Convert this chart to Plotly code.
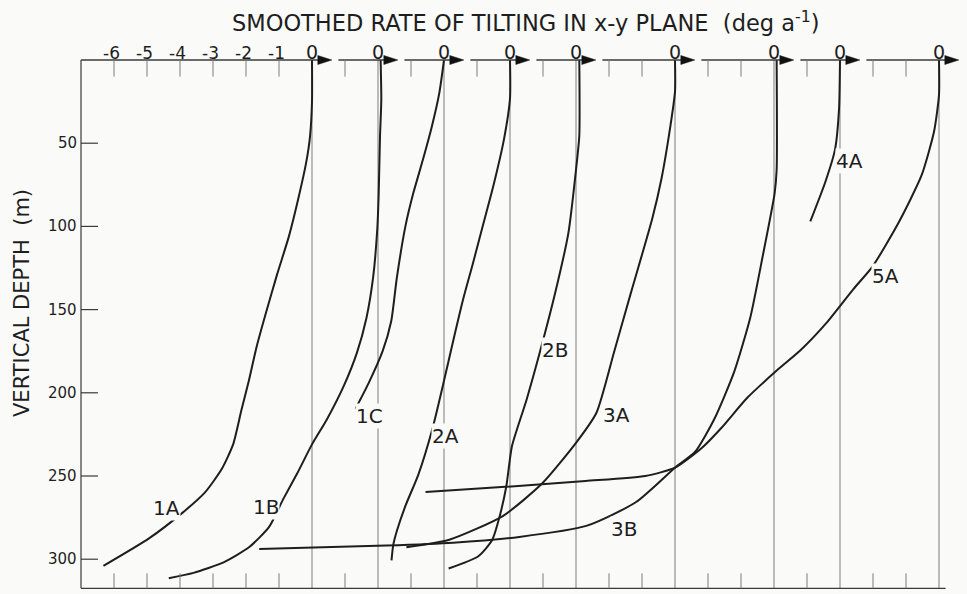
import plotly.graph_objects as go

# ---------------- data ----------------
TITLE = "SMOOTHED RATE OF TILTING IN x-y PLANE  (deg a<sup>-1</sup>)"
Y_TITLE = "VERTICAL DEPTH  (m)"

curve_names = ["1A", "1B", "1C", "2A", "2B", "3A", "3B", "4A", "5A"]
# shared horizontal axis (deg/a): position of each curve's own zero
zero_positions = [0, 2, 4, 6, 8, 11, 14, 16, 19]

depth_1A = [0, 25, 46, 62, 82, 106, 129, 153, 172.5, 192.4, 210.5, 231, 246, 260, 272, 287.5, 304]
rate_1A = [0, 0, -0.06, -0.18, -0.40, -0.70, -1.06, -1.41, -1.68, -1.91, -2.14, -2.39, -2.74, -3.25,
           -3.92, -4.94, -6.32]

depth_1B = [0, 24, 46.5, 81, 101, 131, 155, 176, 196, 216, 231, 248.5, 264.2, 280.6, 292.7, 301.9,
            308.2, 311.4]
rate_1B = [0.08, 0.10, 0.06, 0.02, -0.02, -0.15, -0.35, -0.64, -1.04, -1.55, -2.0, -2.45, -2.88, -3.30,
           -3.90, -4.68, -5.59, -6.34]

depth_1C = [0, 19.6, 40.1, 60, 80, 100, 131, 157, 175, 194, 209.5]
rate_1C = [0, -0.14, -0.37, -0.64, -0.93, -1.17, -1.43, -1.60, -1.86, -2.28, -2.68]

depth_2A = [0, 23.2, 47.4, 74.5, 98.6, 122.7, 143.8, 167.8, 191.9, 220.8, 249.3, 267.5, 282.5, 291.7, 300.7]
rate_2A = [0, 0, -0.18, -0.49, -0.81, -1.13, -1.42, -1.71, -1.99, -2.34, -2.78, -3.16, -3.42, -3.54, -3.59]

depth_2B = [0, 45.5, 66, 103.9, 139.9, 176, 204.3, 232, 256, 274, 288.5, 298.2, 305.6]
rate_2B = [0.10, 0.10, 0.0, -0.23, -0.63, -1.10, -1.50, -1.94, -2.11, -2.31, -2.54, -2.96, -3.86]

depth_3A = [0, 19, 44.9, 71.4, 95.4, 139.5, 175.8, 212, 230.1, 254.4, 274.1, 288.3, 292.8]
rate_3A = [0, 0, -0.18, -0.41, -0.69, -1.33, -1.85, -2.38, -3.0, -4.02, -5.22, -6.84, -8.14]

depth_3B = [0, 66, 80, 118.7, 154.9, 187.6, 215.4, 235.4, 245, 265.8, 280, 286.6, 290.1, 291.8, 293.8]
rate_3B = [0.08, 0.08, 0.02, -0.35, -0.72, -1.21, -1.80, -2.39, -3.0, -4.19, -5.69, -7.72, -9.72,
           -11.75, -15.6]

depth_4A = [0, 29.7, 53.7, 73.6, 97]
rate_4A = [0, -0.03, -0.15, -0.45, -0.90]

depth_5A = [0, 21, 43, 69.4, 97.2, 124, 137.8, 158, 174.3, 186.5, 203, 221, 233, 245, 250, 253, 256.5, 259.6]
rate_5A = [0, 0, -0.15, -0.53, -1.21, -2.01, -2.60, -3.41, -4.19, -4.91, -5.81, -6.59, -7.18, -8.0,
           -8.9, -10.71, -13.14, -15.56]

depth_ticks = [50, 100, 150, 200, 250, 300]
neg_tick_values = [-6, -5, -4, -3, -2, -1]
axis_min, axis_max = -7, 19
depth_bottom = 317.5

# ---------------- layout / style ----------------
LABEL_POS = {  # (x on shared axis, depth) of each curve label
    "1A": (-4.40, 269.4), "1B": (-1.40, 268.6), "1C": (1.75, 213.7), "2A": (4.06, 225.7),
    "2B": (7.36, 174.4), "3A": (9.23, 213.6), "3B": (9.46, 282.0), "4A": (16.28, 60.9),
    "5A": (17.39, 129.7),
}
W, H = 967, 594
PX_X = 33.0      # px per deg/a
PX_Y = 1.664     # px per metre
LEFT_PX, TOP_PX = 81, 60
BG = "#fafaf8"
INK = "#1e1e1e"
AX = "#3a3a3a"
GRID = "#7c7c7c"
FONT = "DejaVu Sans"

x0 = axis_min - LEFT_PX / PX_X
x1 = x0 + W / PX_X
y0 = -TOP_PX / PX_Y
y1 = y0 + H / PX_Y

series = {
    "1A": (depth_1A, rate_1A), "1B": (depth_1B, rate_1B), "1C": (depth_1C, rate_1C),
    "2A": (depth_2A, rate_2A), "2B": (depth_2B, rate_2B), "3A": (depth_3A, rate_3A),
    "3B": (depth_3B, rate_3B), "4A": (depth_4A, rate_4A), "5A": (depth_5A, rate_5A),
}

fig = go.Figure()
shapes = []
annotations = []

# zero grid lines
for z in zero_positions:
    shapes.append(dict(type="line", xref="x", yref="y", x0=z, x1=z, y0=0, y1=depth_bottom,
                       line=dict(color=GRID, width=1), layer="below"))

# left frame and bottom axis
shapes.append(dict(type="line", xref="x", yref="y", x0=axis_min, x1=axis_min, y0=0, y1=depth_bottom,
                   line=dict(color=AX, width=1.2)))
shapes.append(dict(type="line", xref="x", yref="y", x0=axis_min, x1=zero_positions[-1] + 0.2,
                   y0=depth_bottom, y1=depth_bottom, line=dict(color=AX, width=1.2)))

# top axis: one segment with an arrow for every curve's zero
starts = [axis_min] + [z + 0.8 for z in zero_positions[:-1]]
ends = [z + 0.6 for z in zero_positions]
for s, e in zip(starts, ends):
    shapes.append(dict(type="line", xref="x", yref="y", x0=s, x1=e - 0.25, y0=0, y1=0,
                       line=dict(color=AX, width=1.3)))
    shapes.append(dict(type="path", xref="x", yref="y", xsizemode="pixel", ysizemode="pixel",
                       xanchor=e, yanchor=0, path="M 0 0 L -14 4.5 L -14 -4.5 Z",
                       fillcolor="#111111", line=dict(color="#111111", width=0.5)))

# tick marks on top and bottom axes
for i in range(axis_min + 1, zero_positions[-1]):
    if i in zero_positions:
        continue
    shapes.append(dict(type="line", xref="x", yref="y", x0=i, x1=i, y0=0, y1=10,
                       line=dict(color=GRID, width=1)))
    shapes.append(dict(type="line", xref="x", yref="y", x0=i, x1=i, y0=depth_bottom,
                       y1=depth_bottom - 9, line=dict(color=GRID, width=1)))

# depth ticks (inside) and labels
for d in depth_ticks:
    shapes.append(dict(type="line", xref="x", yref="y", x0=axis_min, x1=axis_min + 17 / PX_X,
                       y0=d, y1=d, line=dict(color=AX, width=1.2)))
    annotations.append(dict(x=axis_min - 2.5 / PX_X, y=d, xref="x", yref="y", text=str(d),
                            showarrow=False, xanchor="right", yanchor="middle",
                            font=dict(family=FONT, size=15, color=INK)))

# top tick labels
for v in neg_tick_values:
    annotations.append(dict(x=v, y=-4.3, xref="x", yref="y", text=str(v), showarrow=False,
                            xanchor="center", yanchor="middle", xshift=-3,
                            font=dict(family=FONT, size=17, color=INK)))
for z in zero_positions:
    annotations.append(dict(x=z, y=-4.6, xref="x", yref="y", text="0", showarrow=False,
                            xanchor="center", yanchor="middle",
                            font=dict(family=FONT, size=19, color=INK)))

# curves
for name, z in zip(curve_names, zero_positions):
    depths, rates = series[name]
    fig.add_trace(go.Scatter(x=[z + r for r in rates], y=depths, mode="lines",
                             line=dict(color=INK, width=2, shape="spline", smoothing=0.6),
                             name=name, showlegend=False, hoverinfo="skip"))
    lx, ly = LABEL_POS[name]
    annotations.append(dict(x=lx, y=ly, xref="x", yref="y", text=name, showarrow=False,
                            xanchor="center", yanchor="middle", bgcolor=BG, borderpad=0,
                            font=dict(family=FONT, size=20, color=INK)))

# titles
annotations.append(dict(x=(525 - 312) / PX_X, y=(21 - TOP_PX) / PX_Y, xref="x", yref="y", text=TITLE,
                        showarrow=False, xanchor="center", yanchor="middle",
                        font=dict(family=FONT, size=22.5, color=INK)))
annotations.append(dict(x=axis_min + (22 - LEFT_PX) / PX_X, y=(303 - TOP_PX) / PX_Y, xref="x", yref="y",
                        text=Y_TITLE, showarrow=False, textangle=-90, xanchor="center",
                        yanchor="middle", font=dict(family=FONT, size=21, color=INK)))

fig.update_layout(
    width=W, height=H, margin=dict(l=0, r=0, t=0, b=0),
    paper_bgcolor=BG, plot_bgcolor=BG,
    xaxis=dict(range=[x0, x1], visible=False, fixedrange=True),
    yaxis=dict(range=[y1, y0], visible=False, fixedrange=True),
    shapes=shapes, annotations=annotations, showlegend=False,
)

fig.write_html("out.html")
